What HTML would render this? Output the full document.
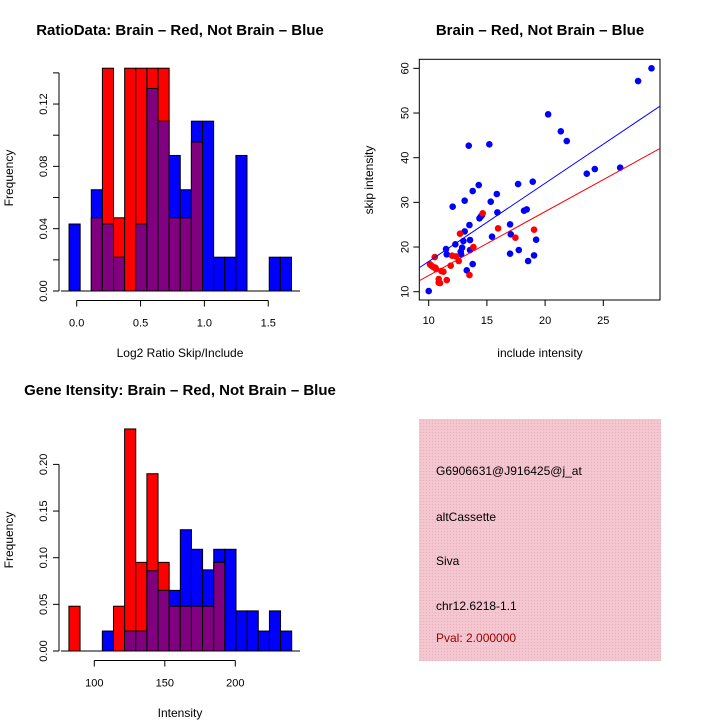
<!DOCTYPE html>
<html><head><meta charset="utf-8"><style>
body{margin:0;background:#fff;}
svg{display:block;font-family:"Liberation Sans",sans-serif;}
</style></head><body>
<svg id="s" width="720" height="720" viewBox="0 0 720 720" xmlns="http://www.w3.org/2000/svg">
<defs>
<pattern id="pk" width="3" height="3" patternUnits="userSpaceOnUse"><rect width="3" height="3" fill="#f3c6d0"/><rect width="1" height="1" fill="#e8b0be"/></pattern>
</defs>
<rect width="720" height="720" fill="#fff"/>
<g font-weight="bold" font-size="15" text-anchor="middle">
<text x="180" y="35">RatioData: Brain – Red, Not Brain – Blue</text>
<text x="540" y="35">Brain – Red, Not Brain – Blue</text>
<text x="180" y="395">Gene Itensity: Brain – Red, Not Brain – Blue</text>
</g>
<g font-size="12" text-anchor="middle">
<text x="180" y="357">Log2 Ratio Skip/Include</text>
<text transform="translate(13,178) rotate(-90)">Frequency</text>
<text x="540" y="357">include intensity</text>
<text transform="translate(373,180) rotate(-90)">skip intensity</text>
<text x="180" y="717">Intensity</text>
<text transform="translate(13,540) rotate(-90)">Frequency</text>
</g>
<g>
<rect x="419" y="419" width="242" height="242" fill="url(#pk)"/>
<g font-size="12">
<text x="436" y="475">G6906631@J916425@j_at</text>
<text x="436" y="521">altCassette</text>
<text x="436" y="565">Siva</text>
<text x="436" y="610">chr12.6218-1.1</text>
<text x="436" y="642" fill="#a00000">Pval: 2.000000</text>
</g>
</g>
<g id="h1"></g><g id="h2"></g><g id="sc"></g>
</svg>
<script>
// Ratio histogram data (20 bins)
const ratioBinStart = -0.06;
const ratioBinWidth = 0.0871;
const ratioBlue = [0.043,0,0.065,0.043,0.0217,0,0.043,0.130,0.109,0.087,0.065,0.109,0.109,0.0217,0.0217,0.087,0,0,0.0217,0.0217];
const ratioRed  = [0,0,0.047,0.143,0.047,0.143,0.143,0.143,0.143,0.047,0.047,0.0956,0,0,0,0,0,0,0,0];
const ratioXTicks = [0,0.5,1,1.5];
const ratioXLabels = ["0.0","0.5","1.0","1.5"];
const ratioYTicks = [0,0.02,0.04,0.06,0.08,0.10,0.12,0.14];
const ratioYLabels = ["0.00","","0.04","","0.08","","0.12",""];
// Intensity histogram data
const intBinStart = 82;
const intBinWidth = 7.9;
const intBlue = [0,0,0,0.0214,0,0.0214,0.0214,0.086,0.065,0.065,0.13,0.109,0.087,0.109,0.109,0.043,0.043,0.0214,0.043,0.0214];
const intRed  = [0.048,0,0,0,0.048,0.238,0.095,0.19,0.095,0.048,0.048,0.048,0.048,0.095,0,0,0,0,0,0];
const intXTicks = [100,150,200];
const intXLabels = ["100","150","200"];
const intYTicks = [0,0.05,0.10,0.15,0.20];
const intYLabels = ["0.00","0.05","0.10","0.15","0.20"];
// Scatter data
const blueX = [10.0,11.49,11.55,12.06,12.29,12.75,12.78,12.87,12.98,13.09,13.09,13.27,13.44,13.5,13.55,13.55,13.78,13.78,14.3,14.36,14.47,14.58,15.21,15.33,15.44,15.85,15.9,16.99,16.99,17.05,17.68,17.74,18.19,18.42,18.54,18.94,19.05,19.23,20.26,21.35,21.86,23.58,24.27,26.45,27.99,29.14];
const blueY = [10.15,19.55,18.36,29.03,20.6,18.96,18.36,19.85,21.34,23.5,30.37,14.78,42.69,24.93,21.57,19.33,32.54,16.19,33.88,26.42,26.79,27.16,42.99,30.15,22.31,31.87,27.76,25.07,18.51,22.84,34.1,19.33,28.13,28.43,16.87,34.63,18.13,21.64,49.7,45.9,43.73,36.42,37.46,37.76,57.16,60.0];
const redX = [10.11,10.23,10.4,10.52,10.57,10.63,10.86,10.86,10.97,11.09,11.26,11.55,11.89,12.01,12.35,12.58,12.69,13.5,13.84,14.64,15.96,17.45,19.05];
const redY = [16.12,15.82,15.52,17.76,15.37,15.07,12.84,12.01,11.94,14.63,14.48,12.61,15.82,18.06,17.91,16.87,22.99,13.73,20.0,27.54,24.18,22.09,23.88];
const blueFit = [-0.73,1.75];
const redFit = [-0.71,1.432];
const scXTicks = [10,15,20,25];
const scYTicks = [10,20,30,40,50,60];

const NS="http://www.w3.org/2000/svg";
function mk(parent,tag,attrs){const e=document.createElementNS(NS,tag);for(const k in attrs)e.setAttribute(k,attrs[k]);parent.appendChild(e);return e;}

function hist(g,cfg){
  const xs=v=>cfg.x0+(v-cfg.v0)*cfg.kx;
  const ys=v=>cfg.y0-v*cfg.ky;
  for(let i=0;i<cfg.blue.length;i++){
    const b=cfg.blue[i],r=cfg.red[i];
    const xa=xs(cfg.bs+i*cfg.bw),xb=xs(cfg.bs+(i+1)*cfg.bw);
    const hi=Math.max(b,r),lo=Math.min(b,r);
    if(hi>0){
      const e=mk(g,'rect',{x:xa,y:ys(hi),width:xb-xa,height:ys(0)-ys(hi),fill:b>=r?'#0000ff':'#ff0000',stroke:'#000','stroke-width':1});
      
      
    }
    if(lo>0){
      const e=mk(g,'rect',{x:xa,y:ys(lo),width:xb-xa,height:ys(0)-ys(lo),fill:'#800080',stroke:'#000','stroke-width':1});
      
      
    }
  }
  const yt=cfg.yticks;
  mk(g,'line',{x1:cfg.ax,x2:cfg.ax,y1:ys(yt[0]),y2:ys(yt[yt.length-1]),stroke:'#000'});
  yt.forEach((v,i)=>{
    mk(g,'line',{x1:cfg.ax-6,x2:cfg.ax,y1:ys(v),y2:ys(v),stroke:'#000'});
    if(cfg.ylabels[i]){const t=mk(g,'text',{transform:`translate(${cfg.ax-12},${ys(v)}) rotate(-90)`,'text-anchor':'middle','font-size':11});t.textContent=cfg.ylabels[i];
      
      }
  });
  const xt=cfg.xticks;
  mk(g,'line',{x1:xs(xt[0]),x2:xs(xt[xt.length-1]),y1:cfg.xay,y2:cfg.xay,stroke:'#000'});
  xt.forEach((v,i)=>{
    mk(g,'line',{x1:xs(v),x2:xs(v),y1:cfg.xay,y2:cfg.xay+6,stroke:'#000'});
    const t=mk(g,'text',{x:xs(v),y:cfg.xay+26,'text-anchor':'middle','font-size':11});t.textContent=cfg.xlabels[i];
    
    
  });
  mk(g,'line',{x1:cfg.ax+2,x2:cfg.right,y1:ys(0),y2:ys(0),stroke:'#000'});
}
hist(document.getElementById('h1'),{x0:76.7,v0:0,kx:127.7,y0:291,ky:1558,bs:ratioBinStart,bw:ratioBinWidth,blue:ratioBlue,red:ratioRed,yticks:ratioYTicks,ylabels:ratioYLabels,xticks:ratioXTicks,xlabels:ratioXLabels,ax:59,xay:300.5,right:300});
hist(document.getElementById('h2'),{x0:94.3,v0:100,kx:1.41,y0:651,ky:933,bs:intBinStart,bw:intBinWidth,blue:intBlue,red:intRed,yticks:intYTicks,ylabels:intYLabels,xticks:intXTicks,xlabels:intXLabels,ax:59,xay:660.5,right:300});

(function(){
  const g=document.getElementById('sc');
  const L=419.3,R=660,T=59.3,B=300;
  const xs=v=>428.7+(v-10)*11.64;
  const ys=v=>291.7-(v-10)*4.467;
  mk(g,'rect',{x:L,y:T,width:R-L,height:B-T,fill:'none',stroke:'#000'});
  const clip=mk(g,'clipPath',{id:'cp'});mk(clip,'rect',{x:L,y:T,width:R-L,height:B-T});
  const pg=mk(g,'g',{'clip-path':'url(#cp)'});
  blueX.forEach((x,i)=>{const c=mk(pg,'circle',{cx:xs(x),cy:ys(blueY[i]),r:3.3,fill:'#0000ff'});
    
    });
  redX.forEach((x,i)=>{const c=mk(pg,'circle',{cx:xs(x),cy:ys(redY[i]),r:3.3,fill:'#ff0000'});
    
    });
  const xa=(L-428.7)/11.64+10,xb=(R-428.7)/11.64+10;
  [[blueFit,'#0000ff','fit-line-blue'],[redFit,'#ff0000','fit-line-red']].forEach(([f,c,n])=>{
    const l=mk(pg,'line',{x1:xs(xa),y1:ys(f[0]+f[1]*xa),x2:xs(xb),y2:ys(f[0]+f[1]*xb),stroke:c,'stroke-width':1});
    
    
  });
  mk(g,'line',{x1:xs(10),x2:xs(25),y1:B,y2:B,stroke:'#000'});
  scXTicks.forEach(v=>{mk(g,'line',{x1:xs(v),x2:xs(v),y1:B,y2:B+6,stroke:'#000'});
    const t=mk(g,'text',{x:xs(v),y:B+24,'text-anchor':'middle','font-size':11});t.textContent=v;
    
    });
  scYTicks.forEach(v=>{mk(g,'line',{x1:L-6,x2:L,y1:ys(v),y2:ys(v),stroke:'#000'});
    const t=mk(g,'text',{transform:`translate(${L-11},${ys(v)}) rotate(-90)`,'text-anchor':'middle','font-size':11});t.textContent=v;
    
    });
})();
</script>
</body></html>
